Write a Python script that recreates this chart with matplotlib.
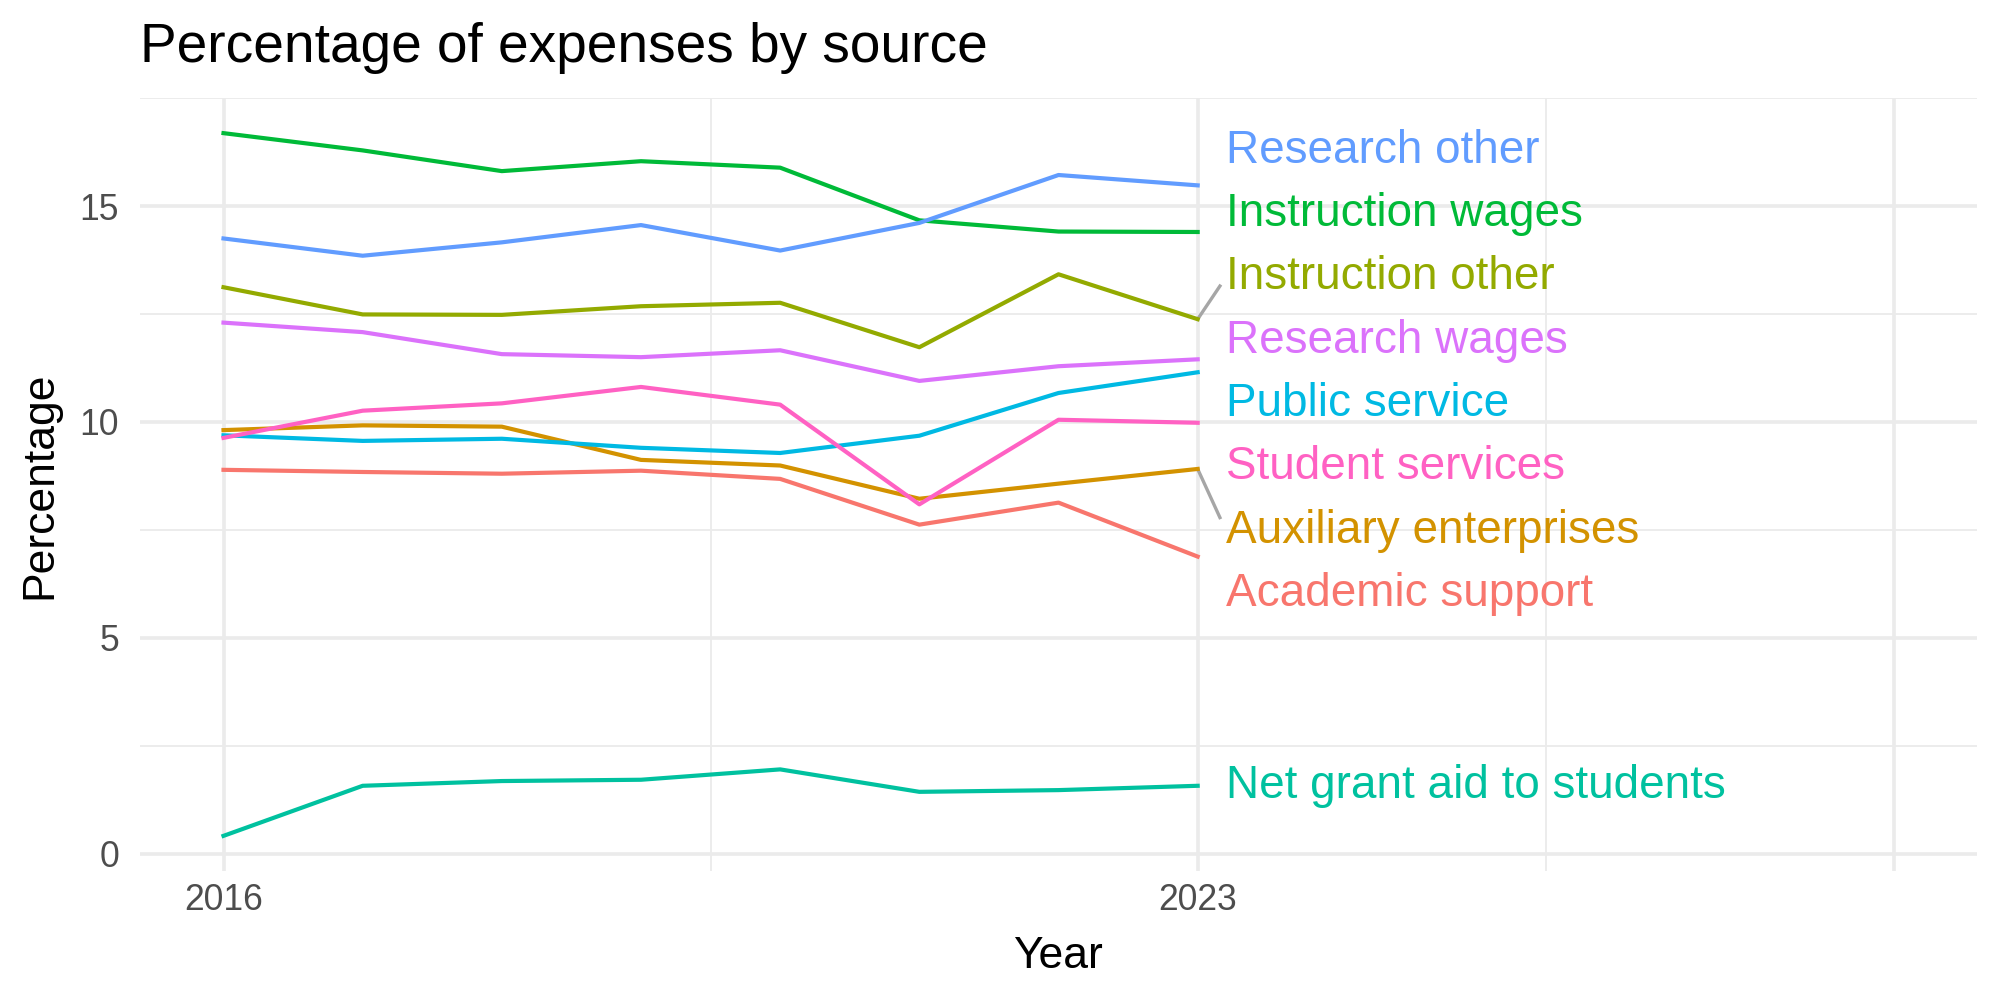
import matplotlib
matplotlib.use("Agg")
import matplotlib.pyplot as plt
import numpy as np

plt.rcParams['font.family'] = ['Liberation Sans', 'DejaVu Sans']

# data
years = [2016, 2017, 2018, 2019, 2020, 2021, 2022, 2023]
sources = ["Academic support", "Auxiliary enterprises", "Instruction other",
           "Instruction wages", "Net grant aid to students", "Public service",
           "Research other", "Research wages", "Student services"]
academic_support = [8.89, 8.84, 8.80, 8.87, 8.68, 7.62, 8.13, 6.88]
auxiliary_enterprises = [9.81, 9.92, 9.89, 9.12, 8.99, 8.22, 8.57, 8.91]
instruction_other = [13.12, 12.49, 12.48, 12.68, 12.76, 11.73, 13.42, 12.38]
instruction_wages = [16.69, 16.29, 15.81, 16.04, 15.89, 14.67, 14.41, 14.40]
net_grant_aid = [0.41, 1.57, 1.68, 1.71, 1.95, 1.43, 1.47, 1.57]
public_service = [9.69, 9.56, 9.61, 9.40, 9.28, 9.68, 10.67, 11.15]
research_other = [14.25, 13.85, 14.16, 14.56, 13.97, 14.61, 15.72, 15.48]
research_wages = [12.30, 12.08, 11.57, 11.50, 11.66, 10.95, 11.29, 11.45]
student_services = [9.63, 10.26, 10.43, 10.81, 10.40, 8.09, 10.05, 9.98]

series = [academic_support, auxiliary_enterprises, instruction_other,
          instruction_wages, net_grant_aid, public_service,
          research_other, research_wages, student_services]
colors = ["#F8766D", "#D39200", "#93AA00", "#00BA38", "#00C19F",
          "#00B9E3", "#619CFF", "#DB72FB", "#FF61C3"]

x_end = 2028          # right end of the x scale (room for labels)
label_gap = 1.466     # min vertical distance between labels


def repel(targets, gap):
    # keep labels at least `gap` apart, moving them as little as possible
    order = np.argsort(targets)[::-1]
    t = np.array(targets)[order]
    q = t + np.arange(len(t)) * gap
    merged = []
    for v in q:
        merged.append([v])
        while len(merged) > 1 and np.mean(merged[-1]) > np.mean(merged[-2]):
            last = merged.pop()
            merged[-1] = merged[-1] + last
    qf = np.concatenate([[np.mean(b)] * len(b) for b in merged])
    p = qf - np.arange(len(t)) * gap
    out = np.empty(len(t))
    out[order] = p
    return out


fig = plt.figure(figsize=(10, 5), dpi=200)
ax = fig.add_axes([0.07, 0.129, 0.9185, 0.773])

for vals, col in zip(series, colors):
    ax.plot(years, vals, color=col, linewidth=1.5, zorder=3)

# labels at the end of each line
ends = [s[-1] for s in series]
raw_y = repel(ends, label_gap)
for name, col, yend, ry in zip(sources, colors, ends, raw_y):
    ly = ry - 0.18 if abs(ry - yend) > 0.01 else ry
    ax.text(years[-1] + 0.2, ly, name, color=col, fontsize=16.5,
            ha='left', va='center', zorder=4)
    if abs(ry - yend) > 1.05:
        sgn = 1 if ry > yend else -1
        ax.plot([years[-1], years[-1] + 0.16], [yend, ly + 0.05 - sgn * 0.25],
                color='#A6A6A6', linewidth=1.2, zorder=2)

# scales
all_vals = np.concatenate([np.array(s) for s in series])
lo, hi = all_vals.min(), all_vals.max()
ax.set_ylim(lo - 0.05 * (hi - lo), hi + 0.05 * (hi - lo))
ax.set_xlim(years[0] - 0.05 * (x_end - years[0]), x_end + 0.05 * (x_end - years[0]))

ax.set_xticks([years[0], years[-1], x_end])
ax.set_xticklabels([str(years[0]), str(years[-1]), ""])
ax.set_xticks([(years[0] + years[-1]) / 2, (years[-1] + x_end) / 2], minor=True)
ax.set_yticks([0, 5, 10, 15])
ax.set_yticks([2.5, 7.5, 12.5, 17.5], minor=True)

ax.grid(which='major', color='#EBEBEB', linewidth=1.3)
ax.grid(which='minor', color='#EBEBEB', linewidth=0.65)
ax.set_axisbelow(True)
for sp in ax.spines.values():
    sp.set_visible(False)
ax.tick_params(which='both', length=0, labelsize=12.8, labelcolor='#4D4D4D')
ax.tick_params(axis='x', pad=4.5)
ax.tick_params(axis='y', pad=7.5)

fig.text(0.07, 0.938, "Percentage of expenses by source", fontsize=19.8,
         ha='left', va='baseline')
fig.text(0.5292, 0.032, "Year", fontsize=16, ha='center', va='baseline')
fig.text(0.02, 0.515, "Percentage", fontsize=16, rotation=90,
         ha='center', va='center')

fig.savefig("out.png", dpi=200, facecolor='white')
